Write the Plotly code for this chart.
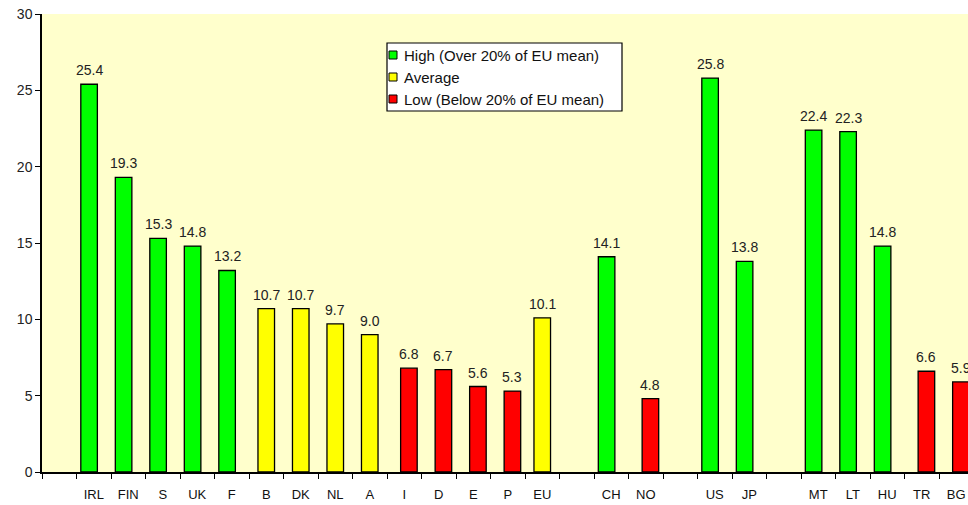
import plotly.graph_objects as go

# Slot order along the x axis (blank strings are empty spacer slots)
slots = [" ", "IRL", "FIN", "S", "UK", "F", "B", "DK", "NL", "A", "I", "D", "E", "P", "EU",
         "  ", "CH", "NO", "   ", "US", "JP", "    ", "MT", "LT", "HU", "TR", "BG"]

high_cats = ["IRL", "FIN", "S", "UK", "F", "CH", "US", "JP", "MT", "LT", "HU"]
high_vals = [25.4, 19.3, 15.3, 14.8, 13.2, 14.1, 25.8, 13.8, 22.4, 22.3, 14.8]

avg_cats = ["B", "DK", "NL", "A", "EU"]
avg_vals = [10.7, 10.7, 9.7, 9.0, 10.1]

low_cats = ["I", "D", "E", "P", "NO", "TR", "BG"]
low_vals = [6.8, 6.7, 5.6, 5.3, 4.8, 6.6, 5.9]

legend_names = ["High (Over 20% of EU mean)", "Average", "Low (Below 20% of EU mean)"]
colors = ["#00FF00", "#FFFF00", "#FF0000"]
# per-series shift of the bar inside its slot (Excel clustered-bar look), in slot units
shifts = [-0.135, 0.0, 0.135]

series = list(zip(legend_names, [high_cats, avg_cats, low_cats],
                  [high_vals, avg_vals, low_vals], colors, shifts))

FONT = "Liberation Sans, Arial, sans-serif"
BAR_W = 0.48
SLOT_PX = 34.5
L, R, T, B = 42, 0, 14, 33
W, H = 968, 505
PW, PH = W - L - R, H - T - B

def px_x(x):
    return (x - L) / PW

def px_y(y):
    return (H - B - y) / PH

fig = go.Figure()
annotations = []
shapes = []
for name, cats, vals, color, sh in series:
    fig.add_trace(go.Bar(
        x=cats, y=vals, name=name, width=BAR_W, offset=sh - BAR_W / 2,
        marker=dict(color=color, line=dict(color="#000000", width=1.3)),
        showlegend=False,
    ))
    for c, v in zip(cats, vals):
        annotations.append(dict(
            x=c, y=v, text=f"{v:.1f}", showarrow=False, yanchor="bottom",
            xshift=sh * SLOT_PX, yshift=4,
            font=dict(family=FONT, size=14, color="#222222"),
        ))

# hand-drawn legend box (matches the compact Excel-style legend)
shapes.append(dict(type="rect", xref="paper", yref="paper",
                   x0=px_x(387), x1=px_x(622), y0=px_y(111), y1=px_y(43),
                   fillcolor="#FFFFFF", line=dict(color="#000000", width=1.2), layer="above"))
for i, (name, color) in enumerate(zip(legend_names, colors)):
    cy = 55 + 22 * i
    shapes.append(dict(type="rect", xref="paper", yref="paper",
                       x0=px_x(389), x1=px_x(397), y0=px_y(cy + 4), y1=px_y(cy - 4),
                       fillcolor=color, line=dict(color="#000000", width=1), layer="above"))
    annotations.append(dict(xref="paper", yref="paper", x=px_x(402), y=px_y(cy),
                            xanchor="left", yanchor="middle", text=name, showarrow=False,
                            font=dict(family=FONT, size=15, color="#111111")))

fig.update_layout(
    width=W, height=H,
    margin=dict(l=L, r=R, t=T, b=B),
    paper_bgcolor="#FFFFFF",
    plot_bgcolor="#FFFFCC",
    barmode="overlay",
    showlegend=False,
    annotations=annotations,
    shapes=shapes,
    font=dict(family=FONT, size=12, color="#222222"),
    xaxis=dict(
        type="category", categoryorder="array", categoryarray=slots,
        range=[-0.5, -0.5 + PW / SLOT_PX],
        tickson="boundaries", ticks="outside", ticklen=5, tickcolor="#000000",
        showline=True, linecolor="#000000", linewidth=1.5,
        showgrid=False, zeroline=False, ticklabelstandoff=10,
        tickfont=dict(family=FONT, size=13, color="#111111"),
    ),
    yaxis=dict(
        range=[0, 30], dtick=5, ticks="outside", ticklen=5, tickcolor="#000000",
        showline=True, linecolor="#000000", linewidth=1.5,
        showgrid=False, zeroline=False,
        tickfont=dict(family=FONT, size=14, color="#222222"),
    ),
)

fig.write_html("out.html")
